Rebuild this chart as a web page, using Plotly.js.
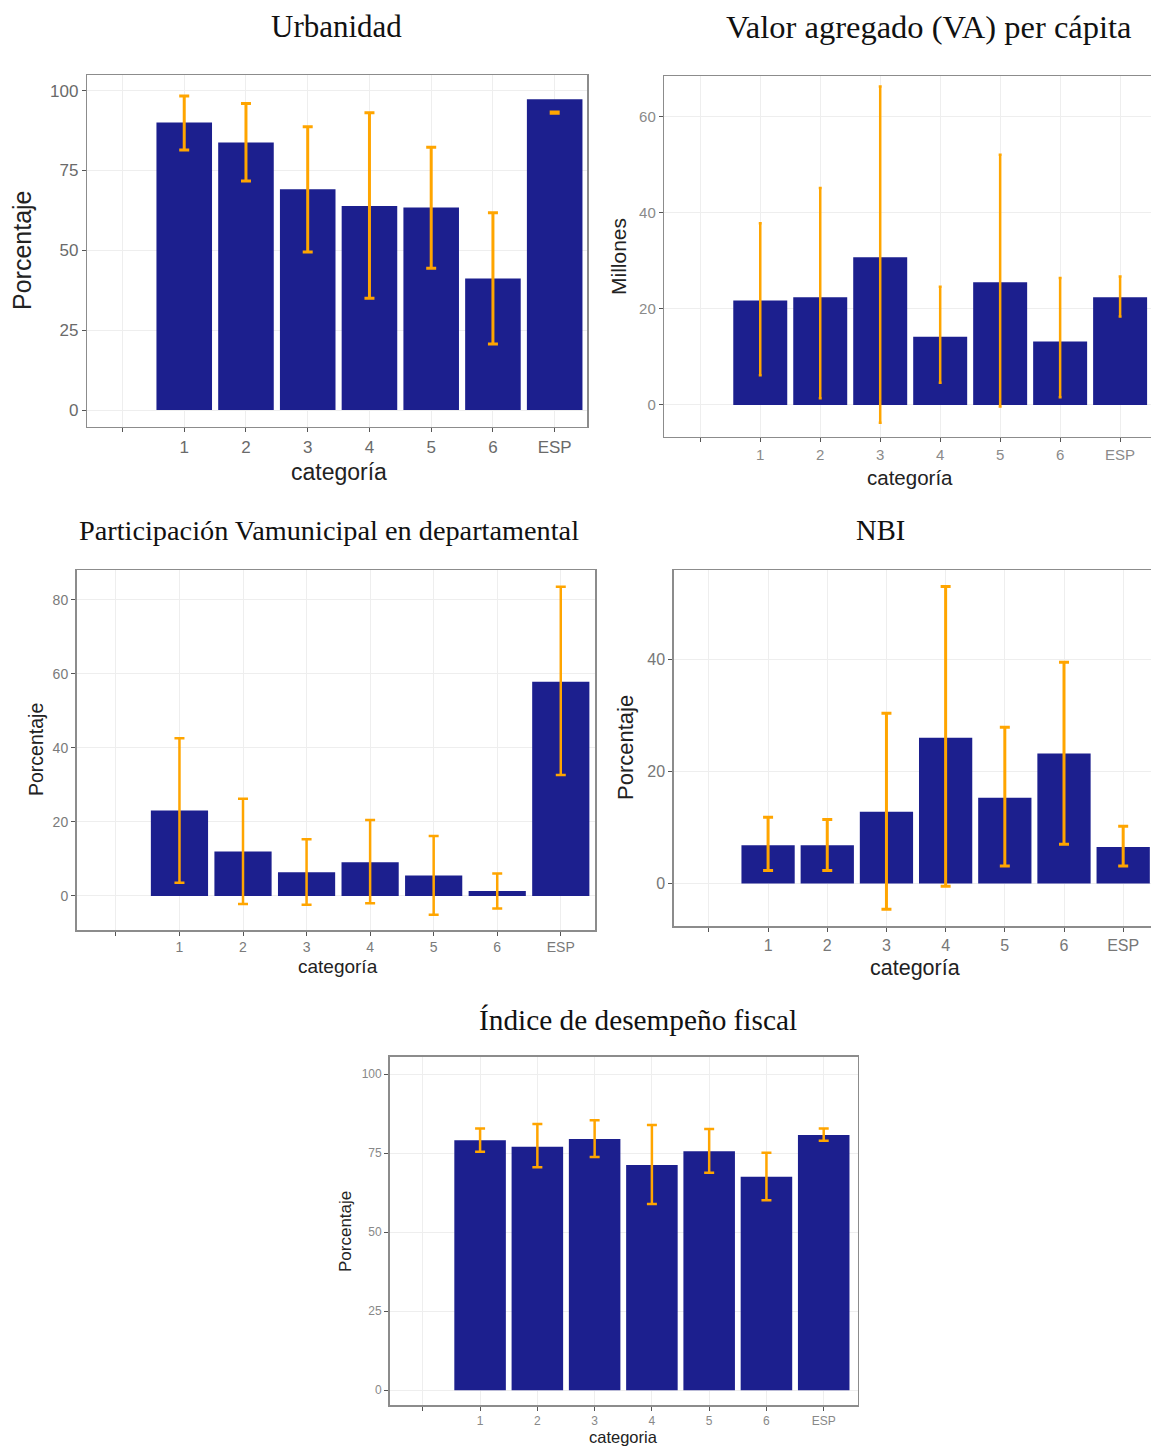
<!DOCTYPE html>
<html>
<head>
<meta charset="utf-8">
<script src="https://cdn.plot.ly/plotly-3.0.1.min.js"></script>
<style>html,body{margin:0;padding:0;background:#fff}#chart{width:1151px;height:1446px}</style>
</head>
<body>
<div id="chart"></div>
<script>
// ---- data ----
const categories = ['NA', '1', '2', '3', '4', '5', '6', 'ESP'];
const tickLabels = ['', '1', '2', '3', '4', '5', '6', 'ESP'];

const urbanidadMean  = [90.0, 83.8, 69.1, 63.9, 63.4, 41.2, 97.3];
const urbanidadUpper = [98.3, 96.0, 88.7, 93.1, 82.3, 61.8, 93.3];
const urbanidadLower = [81.4, 71.7, 49.5, 35.0, 44.4, 20.7, 92.9];

const vaMean  = [21.7, 22.4, 30.7, 14.2, 25.5, 13.2, 22.4];
const vaUpper = [37.8, 45.1, 66.2, 24.6, 52.0, 26.4, 26.7];
const vaLower = [6.2, 1.4, -3.7, 4.6, -0.3, 1.6, 18.4];

const partMean  = [23.1, 12.0, 6.4, 9.1, 5.5, 1.35, 57.9];
const partUpper = [42.6, 26.3, 15.3, 20.5, 16.2, 6.1, 83.6];
const partLower = [3.6, -2.2, -2.4, -2.0, -5.1, -3.4, 32.7];

const nbiMean  = [6.8, 6.8, 12.8, 26.0, 15.3, 23.2, 6.5];
const nbiUpper = [11.8, 11.4, 30.4, 53.0, 27.9, 39.5, 10.2];
const nbiLower = [2.3, 2.3, -4.6, -0.5, 3.1, 7.0, 3.1];

const fiscalMean  = [79.1, 77.0, 79.5, 71.2, 75.6, 67.5, 80.7];
const fiscalUpper = [82.8, 84.2, 85.4, 83.9, 82.6, 75.1, 82.8];
const fiscalLower = [75.4, 70.5, 73.8, 58.9, 68.8, 60.1, 78.9];

const titles = ['Urbanidad', 'Valor agregado (VA) per cápita',
  'Participación Vamunicipal en departamental', 'NBI', 'Índice de desempeño fiscal'];
const yTitles = ['Porcentaje', 'Millones', 'Porcentaje', 'Porcentaje', 'Porcentaje'];
const xTitle = 'categoría';
const xTitle5 = 'categoria';

// ---- layout helpers ----
const W = 1151, H = 1446;
const X = px => px / W;
const Y = py => 1 - py / H;
const BAR = '#1c1f8e';
const ERR = '#ffa500';

const panels = [
  {mean: urbanidadMean, up: urbanidadUpper, lo: urbanidadLower,
   dom: [87.3, 587.4, 75, 426.7], xr: [-0.57, 7.53], yr: [-5.2, 104.9], dtick: 25,
   tickSize: 17, tickColor: '#6a6a6a', errT: 3, errW: 5,
   title: [336, 26, 31], yt: [22, 250, 25], xt: [339, 472, 23]},
  {mean: vaMean, up: vaUpper, lo: vaLower,
   dom: [664.3, 1151, 76, 436.7], xr: [-0.6, 7.515], yr: [-6.6, 68.4], dtick: 20,
   tickSize: 15, tickColor: '#8a8a8a', errT: 2.5, errW: 1.5, noRight: true,
   title: [928, 27, 32.5], yt: [618, 257, 21], xt: [910, 478, 20.5]},
  {mean: partMean, up: partUpper, lo: partLower,
   dom: [76.5, 595.1, 570, 930], xr: [-0.62, 7.54], yr: [-9.2, 88.1], dtick: 20,
   tickSize: 14, tickColor: '#7a7a7a', errT: 2.5, errW: 5,
   title: [329, 530, 28.3], yt: [36, 750, 19.5], xt: [338, 967, 19]},
  {mean: nbiMean, up: nbiUpper, lo: nbiLower,
   dom: [673.8, 1151, 570, 926], xr: [-0.593, 7.47], yr: [-7.6, 55.95], dtick: 20,
   tickSize: 16, tickColor: '#777', errT: 3, errW: 5, noRight: true,
   title: [880, 530, 28.6], yt: [625, 748, 22], xt: [915, 968, 21.5]},
  {mean: fiscalMean, up: fiscalUpper, lo: fiscalLower,
   dom: [389.6, 857.5, 1056.7, 1405], xr: [-0.58, 7.59], yr: [-4.7, 105.5], dtick: 25,
   tickSize: 12, tickColor: '#888', errT: 2.5, errW: 5,
   title: [638, 1020, 29.3], yt: [345, 1232, 17], xt: [623, 1437, 16.5]}
];

const traces = [];
const layout = {
  width: W, height: H, margin: {l: 0, r: 0, t: 0, b: 0},
  paper_bgcolor: '#fff', plot_bgcolor: '#fff', showlegend: false,
  font: {family: 'Liberation Sans, Arial, sans-serif', color: '#333'},
  annotations: [], shapes: []
};

panels.forEach((p, i) => {
  const n = i + 1;
  const xa = n === 1 ? 'x' : 'x' + n;
  const ya = n === 1 ? 'y' : 'y' + n;
  traces.push({
    type: 'bar', xaxis: xa, yaxis: ya,
    x: categories,
    y: [null].concat(p.mean),
    width: 0.9,
    marker: {color: BAR, line: {width: 0}},
    error_y: {
      type: 'data', symmetric: false,
      array: [null].concat(p.up.map((u, k) => u - p.mean[k])),
      arrayminus: [null].concat(p.lo.map((l, k) => p.mean[k] - l)),
      color: ERR, thickness: p.errT, width: p.errW
    },
    hoverinfo: 'x+y'
  });
  const lineColor = '#8c8c8c';
  layout['xaxis' + (n === 1 ? '' : n)] = {
    domain: [X(p.dom[0]), X(p.dom[1])], anchor: ya,
    type: 'category', categoryorder: 'array', categoryarray: categories,
    tickmode: 'array', tickvals: categories, ticktext: tickLabels,
    range: p.xr, showline: true, linecolor: lineColor, linewidth: 1.5, mirror: true,
    ticks: 'outside', ticklen: 4, tickcolor: '#555', tickwidth: 1,
    showgrid: true, gridcolor: '#eeeeee', gridwidth: 1, zeroline: false,
    tickfont: {size: p.tickSize, color: p.tickColor, family: 'Liberation Sans, Arial, sans-serif'},
    fixedrange: true
  };
  layout['yaxis' + (n === 1 ? '' : n)] = {
    domain: [Y(p.dom[3]), Y(p.dom[2])], anchor: xa,
    range: p.yr, dtick: p.dtick, tick0: 0,
    showline: true, linecolor: lineColor, linewidth: 1.5, mirror: !p.noRight,
    ticks: 'outside', ticklen: 4, tickcolor: '#555', tickwidth: 1,
    showgrid: true, gridcolor: '#eeeeee', gridwidth: 1, zeroline: false,
    tickfont: {size: p.tickSize, color: p.tickColor, family: 'Liberation Sans, Arial, sans-serif'},
    fixedrange: true
  };
  // panel title
  layout.annotations.push({
    text: titles[i], xref: 'paper', yref: 'paper', x: X(p.title[0]), y: Y(p.title[1]),
    xanchor: 'center', yanchor: 'middle', showarrow: false,
    font: {family: 'Liberation Serif, Times New Roman, serif', size: p.title[2], color: '#111'}
  });
  // y title
  layout.annotations.push({
    text: yTitles[i], xref: 'paper', yref: 'paper', x: X(p.yt[0]), y: Y(p.yt[1]),
    xanchor: 'center', yanchor: 'middle', showarrow: false, textangle: -90,
    font: {family: 'Liberation Sans, Arial, sans-serif', size: p.yt[2], color: '#222'}
  });
  // x title
  layout.annotations.push({
    text: n === 5 ? xTitle5 : xTitle, xref: 'paper', yref: 'paper', x: X(p.xt[0]), y: Y(p.xt[1]),
    xanchor: 'center', yanchor: 'middle', showarrow: false,
    font: {family: 'Liberation Sans, Arial, sans-serif', size: p.xt[2], color: '#222'}
  });
});

Plotly.newPlot('chart', traces, layout, {displayModeBar: false, staticPlot: true});
</script>
</body>
</html>
